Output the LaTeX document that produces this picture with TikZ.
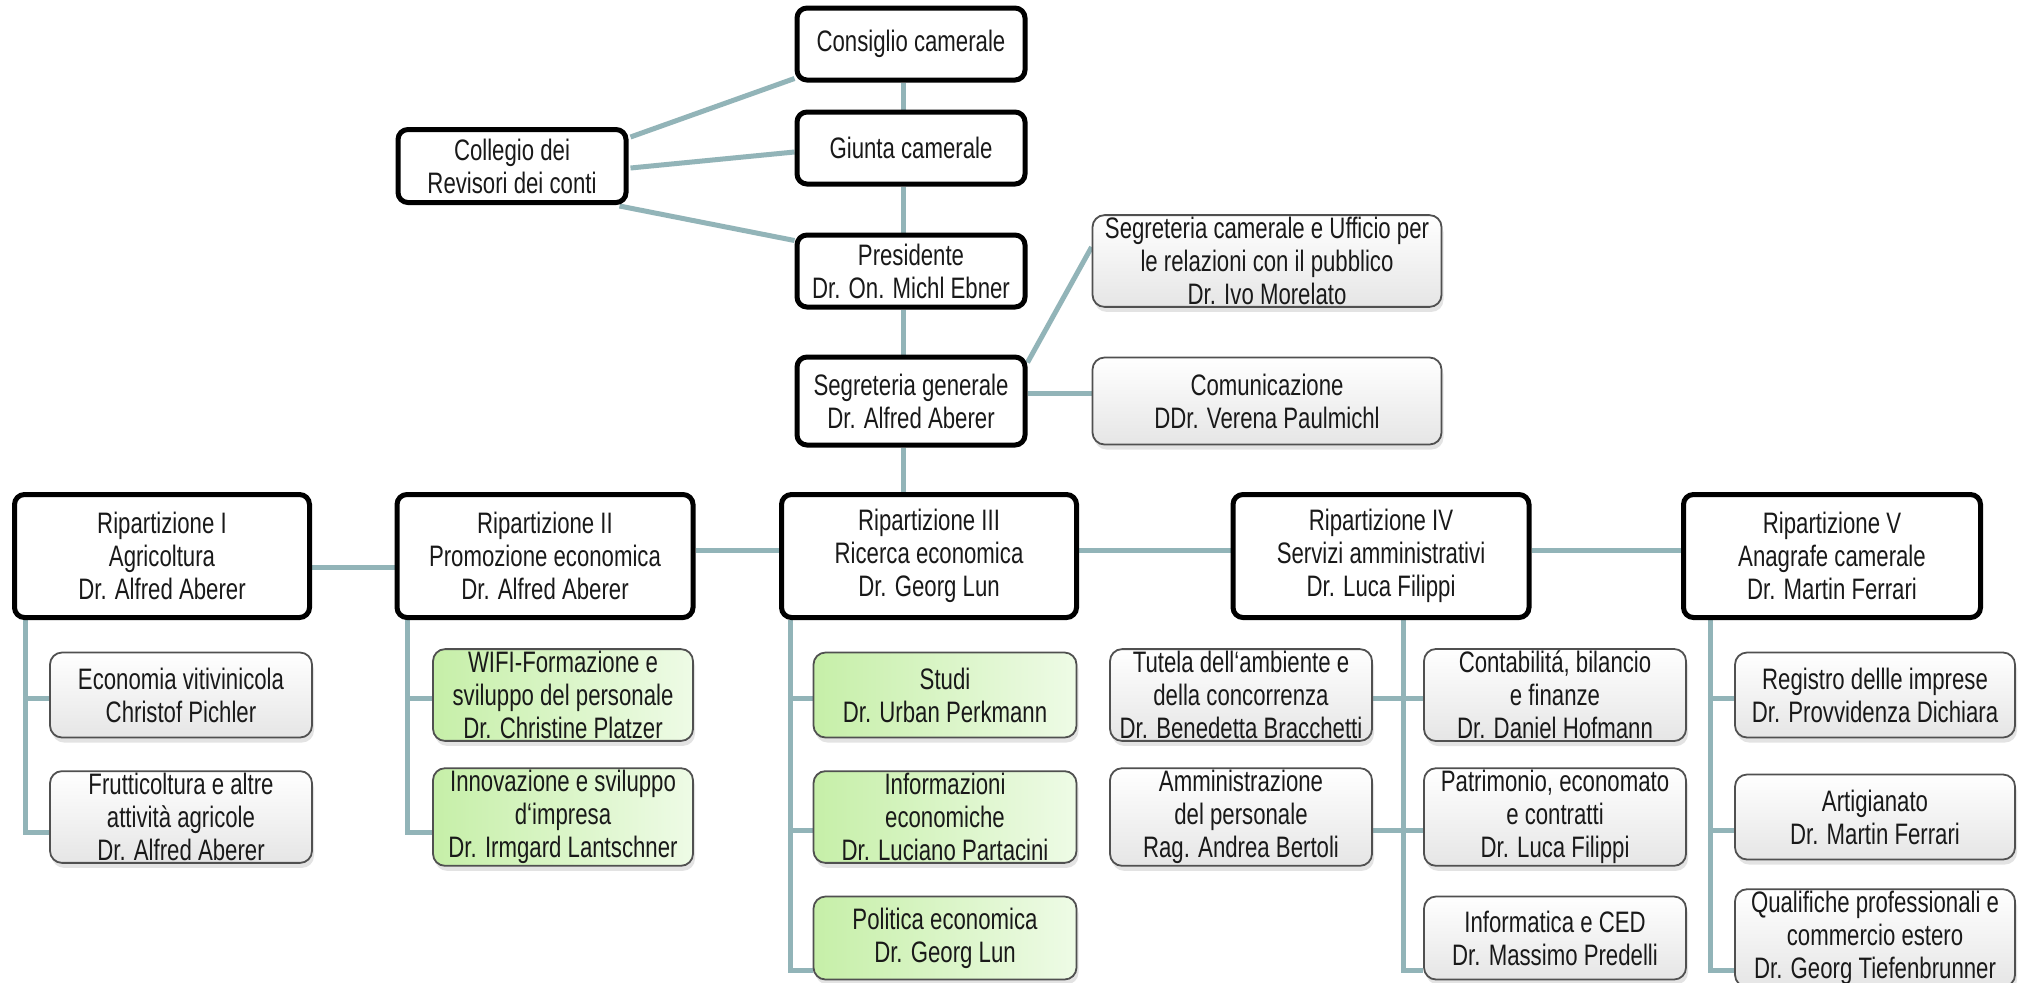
\documentclass[tikz,border=0pt]{standalone}
\usepackage{fontspec}
\setmainfont[FakeStretch=0.75]{Liberation Sans}
\usetikzlibrary{shadows,calc}
\definecolor{conncol}{RGB}{146,180,184}
\definecolor{txtcol}{RGB}{25,25,25}
\definecolor{greenA}{RGB}{198,239,168}
\definecolor{greenB}{RGB}{238,251,230}
\definecolor{edgecol}{RGB}{80,80,80}
\pgfdeclarelayer{bgfill}
\pgfdeclarelayer{background}
\pgfsetlayers{bgfill,background,main}
\begin{document}
\begin{tikzpicture}[x=0.5pt,y=-0.5pt,
  every node/.style={font=\fontsize{14.8}{16.5}\selectfont, text=txtcol, align=center, inner sep=1pt},
  mainbox/.style={draw=black, line width=2.5pt, rounded corners=5pt, fill=white},
  subbox/.style={draw=edgecol, line width=0.9pt, rounded corners=6pt, top color=white, bottom color=black!10,
     drop shadow={opacity=0.22, shadow xshift=1pt, shadow yshift=-2.5pt}},
  greenbox/.style={subbox, left color=greenA, right color=greenB},
  conn/.style={draw=conncol, line width=2.5pt},
  bw/.style={minimum width=#1*0.5pt},
  bh/.style={minimum height=#1*0.5pt}]

\begin{pgfonlayer}{bgfill}
\fill[white] (0,0) rectangle (2022,982);
\end{pgfonlayer}
\useasboundingbox (0,0) rectangle (2022,982);

% top column
\node[mainbox,bw=228,bh=72] (cons) at (911,44) {Consiglio camerale};
\node[mainbox,bw=228,bh=72] (giunta) at (911,148) {Giunta camerale};
\node[mainbox,bw=228,bh=72] (pres) at (911,271) {Presidente\\Dr. On. Michl Ebner};
\node[mainbox,bw=228,bh=73] (coll) at (512,166) {Collegio dei\\Revisori dei conti};
\node[mainbox,bw=228,bh=88] (seg) at (911,401) {Segreteria generale\\Dr. Alfred Aberer};
\node[subbox,bw=349,bh=87] (segcam) at (1267,261) {Segreteria camerale e Ufficio per\\le relazioni con il pubblico\\Dr. Ivo Morelato};
\node[subbox,bw=349,bh=87] (com) at (1267,401) {Comunicazione\\DDr. Verena Paulmichl};

% departments
\node[mainbox,bw=295,bh=123] (rip1) at (162,556) {Ripartizione I\\Agricoltura\\Dr. Alfred Aberer};
\node[mainbox,bw=296,bh=123] (rip2) at (545,556) {Ripartizione II\\Promozione economica\\Dr. Alfred Aberer};
\node[mainbox,bw=295,bh=123] (rip3) at (929,556) {Ripartizione III\\Ricerca economica\\Dr. Georg Lun};
\node[mainbox,bw=296,bh=123] (rip4) at (1381,556) {Ripartizione IV\\Servizi amministrativi\\Dr. Luca Filippi};
\node[mainbox,bw=297,bh=123] (rip5) at (1832,556) {Ripartizione V\\Anagrafe camerale\\Dr. Martin Ferrari};

% units
\node[subbox,bw=262,bh=85] (econ) at (181,695) {Economia vitivinicola\\Christof Pichler};
\node[subbox,bw=262,bh=85] (frutti) at (181,817) {Frutticoltura e altre\\attività agricole\\Dr. Alfred Aberer};
\node[greenbox,bw=260,bh=85] (wifi) at (563,695) {WIFI-Formazione e\\sviluppo del personale\\Dr. Christine Platzer};
\node[greenbox,bw=260,bh=85] (innov) at (563,817) {Innovazione e sviluppo\\d‘impresa\\Dr. Irmgard Lantschner};
\node[greenbox,bw=263,bh=85] (studi) at (945,695) {Studi\\Dr. Urban Perkmann};
\node[greenbox,bw=263,bh=85] (info) at (945,817) {Informazioni\\economiche\\Dr. Luciano Partacini};
\node[greenbox,bw=263,bh=83] (poli) at (945,938) {Politica economica\\Dr. Georg Lun};
\node[subbox,bw=262,bh=85] (tutela) at (1241,695) {Tutela dell‘ambiente e\\della concorrenza\\Dr. Benedetta Bracchetti};
\node[subbox,bw=262,bh=85] (ammin) at (1241,817) {Amministrazione\\del personale\\Rag. Andrea Bertoli};
\node[subbox,bw=262,bh=85] (conta) at (1555,695) {Contabilitá, bilancio\\e finanze\\Dr. Daniel Hofmann};
\node[subbox,bw=262,bh=85] (patri) at (1555,817) {Patrimonio, economato\\e contratti\\Dr. Luca Filippi};
\node[subbox,bw=262,bh=83] (infor) at (1555,938) {Informatica e CED\\Dr. Massimo Predelli};
\node[subbox,bw=280,bh=85] (regis) at (1875,695) {Registro dellle imprese\\Dr. Provvidenza Dichiara};
\node[subbox,bw=280,bh=85] (artig) at (1875,817) {Artigianato\\Dr. Martin Ferrari};
\node[subbox,bw=280,bh=83] (quali) at (1875,938) {Qualifiche professionali e\\commercio estero\\Dr. Georg Tiefenbrunner};

\begin{pgfonlayer}{background}
% top spine
\draw[conn] ([xshift=-4pt]cons.south) -- ([xshift=-4pt]giunta.north);
\draw[conn] ([xshift=-4pt]giunta.south) -- ([xshift=-4pt]pres.north);
\draw[conn] ([xshift=-4pt]pres.south) -- ([xshift=-4pt]seg.north);
\draw[conn] ([xshift=-4pt]seg.south) -- ([xshift=-4pt]seg.south |- rip3.north);
% collegio
\draw[conn] ($(coll.north east)+(2,10)$) -- ($(cons.south west)+(0,-4)$);
\draw[conn] ($(coll.east)+(2,2)$) -- ($(giunta.west)+(0,4)$);
\draw[conn] ($(coll.south east)+(-9,1)$) -- ($(pres.north west)+(0,8)$);
% staff
\draw[conn] ($(seg.north east)+(0,8)$) -- ($(segcam.west)+(0,-14)$);
\draw[conn] ($(seg.east)+(0,-8)$) -- ($(com.west)+(0,-8)$);
% department row
\draw[conn] ($(rip1.east)+(0,11)$) -- ($(rip2.west)+(0,11)$);
\draw[conn] ($(rip2.east)+(0,-6)$) -- ($(rip3.west)+(0,-6)$);
\draw[conn] ($(rip3.east)+(0,-6)$) -- ($(rip4.west)+(0,-6)$);
\draw[conn] ($(rip4.east)+(0,-6)$) -- ($(rip5.west)+(0,-6)$);
% Rip I
\coordinate (t1) at ($(rip1.south west)+(13,0)$);
\draw[conn] (t1) |- ($(frutti.west)+(0,15)$);
\draw[conn] (t1 |- {$(econ.west)+(0,3)$}) -- ($(econ.west)+(0,3)$);
% Rip II
\coordinate (t2) at ($(rip2.south west)+(13,0)$);
\draw[conn] (t2) |- ($(innov.west)+(0,15)$);
\draw[conn] (t2 |- {$(wifi.west)+(0,3)$}) -- ($(wifi.west)+(0,3)$);
% Rip III
\coordinate (t3) at ($(rip3.south west)+(11,0)$);
\draw[conn] (t3) |- ($(poli.west)+(0,32)$);
\draw[conn] (t3 |- {$(studi.west)+(0,3)$}) -- ($(studi.west)+(0,3)$);
\draw[conn] (t3 |- {$(info.west)+(0,13)$}) -- ($(info.west)+(0,13)$);
% Rip IV
\coordinate (t4) at ($(rip4.south)+(22,0)$);
\draw[conn] (t4) |- ($(infor.west)+(0,32)$);
\draw[conn] (t4 |- {$(conta.west)+(0,3)$}) -- ($(conta.west)+(0,3)$);
\draw[conn] (t4 |- {$(patri.west)+(0,13)$}) -- ($(patri.west)+(0,13)$);
\draw[conn] (t4 |- {$(tutela.east)+(0,3)$}) -- ($(tutela.east)+(0,3)$);
\draw[conn] (t4 |- {$(ammin.east)+(0,13)$}) -- ($(ammin.east)+(0,13)$);
% Rip V
\coordinate (t5) at ($(rip5.south west)+(29,0)$);
\draw[conn] (t5) |- ($(quali.west)+(0,32)$);
\draw[conn] (t5 |- {$(regis.west)+(0,3)$}) -- ($(regis.west)+(0,3)$);
\draw[conn] (t5 |- {$(artig.west)+(0,13)$}) -- ($(artig.west)+(0,13)$);
\end{pgfonlayer}
\end{tikzpicture}
\end{document}
